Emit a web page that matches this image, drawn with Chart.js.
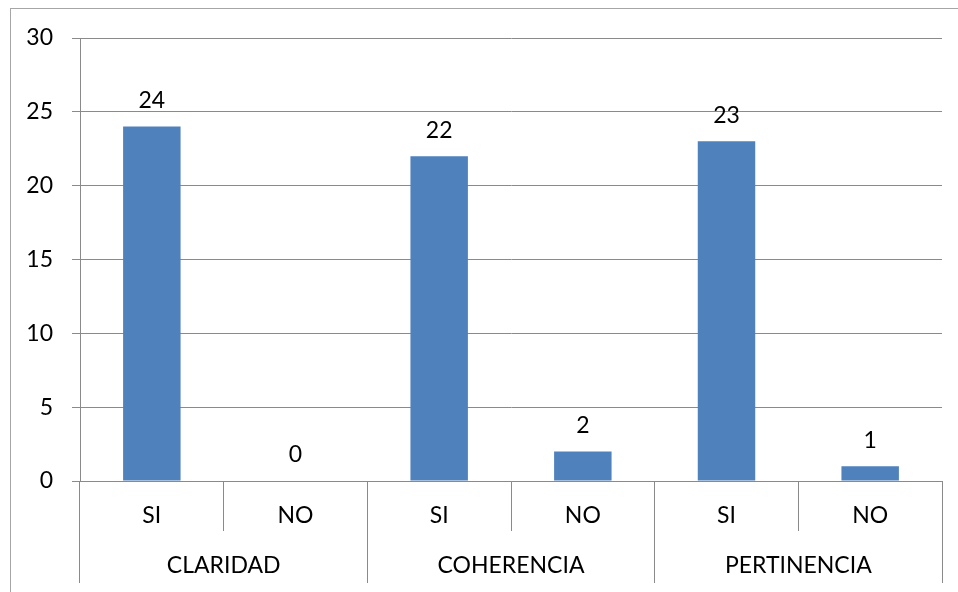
<!DOCTYPE html>
<html>
<head>
<meta charset="utf-8">
<script src="https://cdn.jsdelivr.net/npm/chart.js@4.4.0/dist/chart.umd.min.js"></script>
<style>
html, body { margin: 0; padding: 0; background: #fff; overflow: hidden; }
#wrap { position: relative; width: 958px; height: 592px; overflow: hidden; }
#frame { position: absolute; left: 10px; top: 8px; width: 1000px; height: 700px; border: 1px solid #a6a6a6; }
canvas { position: absolute; left: 0; top: 0; }
</style>
</head>
<body>
<div id="wrap">
  <div id="frame"></div>
  <canvas id="chart" width="958" height="592"></canvas>
</div>
<script>
const categories = ["SI", "NO", "SI", "NO", "SI", "NO"];
const groups = ["CLARIDAD", "COHERENCIA", "PERTINENCIA"];
const values = [24, 0, 22, 2, 23, 1];
const yMin = 0;
const yMax = 30;
const yStep = 5;

const fontFamily = "Lato, 'Open Sans', sans-serif";
const fontSize = 23;
const gridColor = "#8a8a8a";

// numbers drawn above each bar
const valueLabels = {
    id: "valueLabels",
    afterDatasetsDraw(chart) {
        const ctx = chart.ctx;
        const meta = chart.getDatasetMeta(0);
        ctx.save();
        ctx.font = fontSize + "px " + fontFamily;
        ctx.fillStyle = "#000";
        ctx.textAlign = "center";
        ctx.textBaseline = "middle";
        meta.data.forEach((bar, i) => {
            ctx.fillText(values[i], bar.x, bar.y - 26);
        });
        ctx.restore();
    }
};

const chart = new Chart(document.getElementById("chart"), {
    type: "bar",
    data: {
        labels: categories,
        datasets: [{
            data: values,
            backgroundColor: "#4f81bd",
            barPercentage: 0.4,
            categoryPercentage: 1
        }]
    },
    options: {
        responsive: false,
        animation: false,
        devicePixelRatio: 1,
        layout: {
            padding: { top: 38, right: 16, bottom: 9, left: 0 }
        },
        plugins: {
            legend: { display: false },
            tooltip: { enabled: false }
        },
        scales: {
            x: {
                type: "category",
                position: "bottom",
                weight: 0,
                grid: {
                    offset: true,
                    drawOnChartArea: false,
                    tickLength: 50,
                    color: gridColor,
                    lineWidth: 1
                },
                border: { display: true, color: gridColor },
                ticks: {
                    color: "#000",
                    font: { family: fontFamily, size: fontSize },
                    padding: -29,
                    maxRotation: 0
                },
                afterFit(scale) { scale.height = 50; }
            },
            x2: {
                type: "category",
                labels: groups,
                position: "bottom",
                weight: 1,
                offset: true,
                grid: {
                    offset: true,
                    drawOnChartArea: false,
                    tickLength: 52,
                    color: gridColor,
                    lineWidth: 1
                },
                border: { display: false },
                ticks: {
                    color: "#000",
                    font: { family: fontFamily, size: fontSize },
                    padding: -31,
                    maxRotation: 0
                },
                afterFit(scale) { scale.height = 52; }
            },
            y: {
                min: yMin,
                max: yMax,
                ticks: {
                    stepSize: yStep,
                    color: "#000",
                    font: { family: fontFamily, size: fontSize },
                    padding: 19
                },
                grid: {
                    color: gridColor,
                    lineWidth: 1,
                    tickLength: 8
                },
                border: { display: true, color: gridColor },
                afterFit(scale) { scale.width = 80; }
            }
        }
    },
    plugins: [valueLabels]
});
</script>
</body>
</html>
